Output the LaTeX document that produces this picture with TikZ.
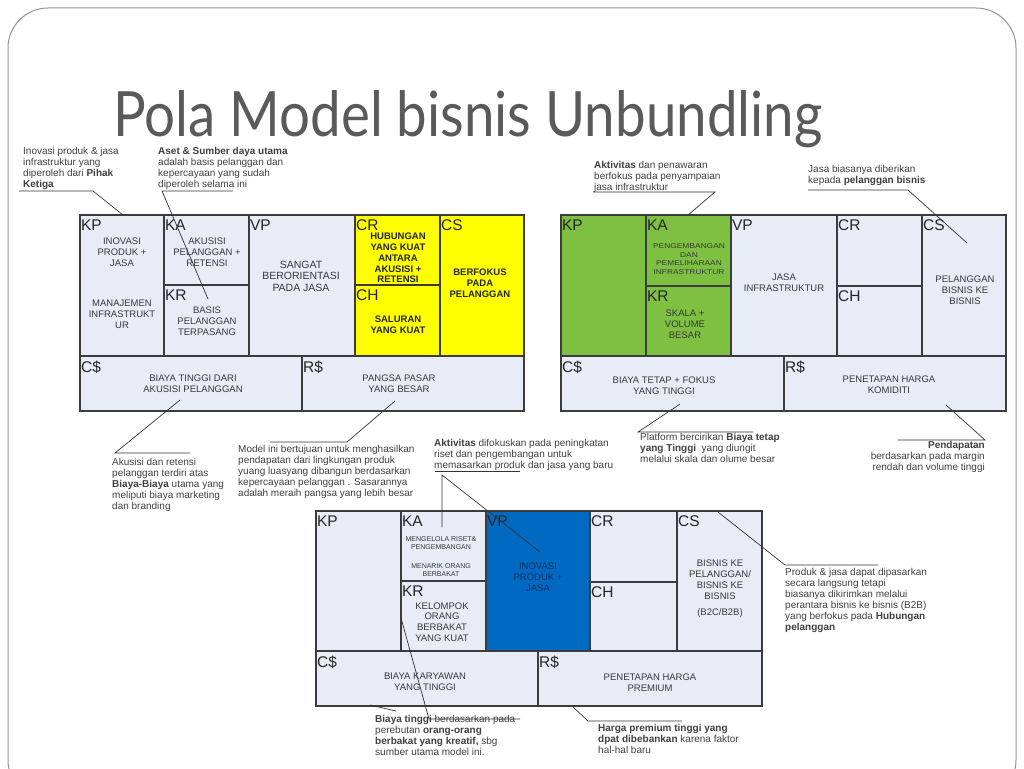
\documentclass[tikz,border=0pt]{standalone}
\usepackage{fontspec}
\usepackage{graphicx}
\setmainfont{Liberation Sans}
\newfontfamily\titlefont{Lato}
\usetikzlibrary{fit}
\definecolor{cellbg}{RGB}{232,236,246}
\definecolor{cellline}{RGB}{60,60,60}
\definecolor{cyellow}{RGB}{255,255,0}
\definecolor{cgreen}{RGB}{126,192,66}
\definecolor{cblue}{RGB}{0,106,194}
\definecolor{navytext}{RGB}{20,50,100}
\definecolor{titlegray}{RGB}{90,90,90}
\definecolor{framegray}{RGB}{150,150,150}
\tikzset{
  cell/.style={draw=cellline, line width=1.2pt, inner sep=0pt},
  tag/.style={anchor=north west, inner sep=0pt, font=\fontsize{15.5}{15.5}\selectfont, text=black!85},
  body/.style={align=center, inner sep=0pt, font=\fontsize{9.5}{10.8}\selectfont, text=black!78},
  bodyb/.style={body, font=\fontsize{9.5}{10.8}\selectfont\bfseries, text=black!85},
  small/.style={align=center, inner sep=0pt, font=\fontsize{7}{8.8}\selectfont, text=black!78},
  ann/.style={align=left, inner sep=0pt, anchor=north west, font=\fontsize{10}{11}\selectfont, text=black!75},
  lead/.style={draw=black!80, line width=0.7pt},
}
\newcommand\mkcell[6]{\node[cell, fill=#6, fit={(#2,#3) (#4,#5)}] (#1) {};}
\newcommand\mktag[2]{\node[tag] at ([shift={(1.5,5.5)}]#1.north west) {#2};}
\begin{document}
\begin{tikzpicture}[x=1pt,y=-1pt]
\useasboundingbox (0,0) rectangle (1024,768);
\fill[white] (0,0) rectangle (1024,768);
\begin{scope}
\clip (0,0) rectangle (1024,768);
\draw[framegray, line width=1pt, rounded corners=40pt] (8,8) rectangle (1016,800);
\end{scope}

% title
\node[anchor=base west, inner sep=0pt, text depth=0pt, text=titlegray] (title) at (113,136)
  {\resizebox{709pt}{46pt}{\titlefont Pola Model bisnis Unbundling}};

% ---------------- canvas 1 ----------------
\mkcell{a-kp}{80}{215}{164}{356}{cellbg}
\mkcell{a-ka}{164}{215}{249}{285}{cellbg}
\mkcell{a-kr}{164}{285}{249}{356}{cellbg}
\mkcell{a-vp}{249}{215}{355}{356}{cellbg}
\mkcell{a-cr}{355}{215}{440}{285}{cyellow}
\mkcell{a-ch}{355}{285}{440}{356}{cyellow}
\mkcell{a-cs}{440}{215}{524}{356}{cyellow}
\mkcell{a-co}{80}{356}{302}{411}{cellbg}
\mkcell{a-re}{302}{356}{524}{411}{cellbg}
\mktag{a-kp}{KP}\mktag{a-ka}{KA}\mktag{a-kr}{KR}\mktag{a-vp}{VP}
\mktag{a-cr}{CR}\mktag{a-ch}{CH}\mktag{a-cs}{CS}\mktag{a-co}{C\$}\mktag{a-re}{R\$}
\node[body] (a-kp1) at (122,252) {INOVASI\\PRODUK +\\JASA};
\node[body] (a-kp2) at (122,314) {MANAJEMEN\\INFRASTRUKT\\UR};
\node[body] (a-ka1) at (207,252) {AKUSISI\\PELANGGAN +\\RETENSI};
\node[body] (a-kr1) at (207,321) {BASIS\\PELANGGAN\\TERPASANG};
\node[body, font=\fontsize{10.5}{11.5}\selectfont] (a-vp1) at (301,276) {SANGAT\\BERORIENTASI\\PADA JASA};
\node[bodyb] (a-cr1) at (398,258) {HUBUNGAN\\YANG KUAT\\ANTARA\\AKUSISI +\\RETENSI};
\node[bodyb] (a-cs1) at (480,283) {BERFOKUS\\PADA\\PELANGGAN};
\node[bodyb] (a-ch1) at (398,325) {SALURAN\\YANG KUAT};
\node[body] (a-co1) at (193,384) {BIAYA TINGGI DARI\\AKUSISI PELANGGAN};
\node[body] (a-re1) at (399,384) {PANGSA PASAR\\YANG BESAR};

% ---------------- canvas 2 ----------------
\mkcell{b-kp}{561}{215}{646}{356}{cgreen}
\mkcell{b-ka}{646}{215}{731}{286}{cgreen}
\mkcell{b-kr}{646}{286}{731}{356}{cgreen}
\mkcell{b-vp}{731}{215}{837}{356}{cellbg}
\mkcell{b-cr}{837}{215}{922}{286}{cellbg}
\mkcell{b-ch}{837}{286}{922}{356}{cellbg}
\mkcell{b-cs}{922}{215}{1006}{356}{cellbg}
\mkcell{b-co}{561}{356}{784}{411}{cellbg}
\mkcell{b-re}{784}{356}{1006}{411}{cellbg}
\mktag{b-kp}{KP}\mktag{b-ka}{KA}\mktag{b-kr}{KR}\mktag{b-vp}{VP}
\mktag{b-cr}{CR}\mktag{b-ch}{CH}\mktag{b-cs}{CS}\mktag{b-co}{C\$}\mktag{b-re}{R\$}
\node[small] (b-ka1) at (689,259) {\scalebox{1.2}[1]{PENGEMBANGAN}\\\scalebox{1.2}[1]{DAN}\\\scalebox{1.2}[1]{PEMELIHARAAN}\\\scalebox{1.2}[1]{INFRASTRUKTUR}};
\node[body] (b-kr1) at (685,324) {SKALA +\\VOLUME\\BESAR};
\node[body] (b-vp1) at (784,283) {JASA\\INFRASTRUKTUR};
\node[body] (b-cs1) at (965,290) {PELANGGAN\\BISNIS KE\\BISNIS};
\node[body] (b-co1) at (664,386) {BIAYA TETAP + FOKUS\\YANG TINGGI};
\node[body] (b-re1) at (889,385) {PENETAPAN HARGA\\KOMIDITI};

% ---------------- canvas 3 ----------------
\mkcell{c-kp}{316}{511}{401}{651}{cellbg}
\mkcell{c-ka}{401}{511}{486}{581}{cellbg}
\mkcell{c-kr}{401}{581}{486}{651}{cellbg}
\mkcell{c-vp}{486}{511}{590}{651}{cblue}
\mkcell{c-cr}{590}{511}{677}{582}{cellbg}
\mkcell{c-ch}{590}{582}{677}{651}{cellbg}
\mkcell{c-cs}{677}{511}{762}{651}{cellbg}
\mkcell{c-co}{316}{651}{538}{706}{cellbg}
\mkcell{c-re}{538}{651}{762}{706}{cellbg}
\mktag{c-kp}{KP}\mktag{c-ka}{KA}\mktag{c-kr}{KR}\mktag{c-vp}{VP}
\mktag{c-cr}{CR}\mktag{c-ch}{CH}\mktag{c-cs}{CS}\mktag{c-co}{C\$}\mktag{c-re}{R\$}
\node[small] (c-ka1) at (441,543) {MENGELOLA RISET\&\\PENGEMBANGAN};
\node[small] (c-ka2) at (441,570) {MENARIK ORANG\\BERBAKAT};
\node[body] (c-kr1) at (442,622) {KELOMPOK\\ORANG\\BERBAKAT\\YANG KUAT};
\node[body, text=navytext] (c-vp1) at (538,577) {INOVASI\\PRODUK +\\JASA};
\node[body] (c-cs1) at (720,589) {BISNIS KE\\PELANGGAN/\\BISNIS KE\\BISNIS\\[6pt](B2C/B2B)};
\node[body] (c-co1) at (425,682) {BIAYA KARYAWAN\\YANG TINGGI};
\node[body] (c-re1) at (650,683) {PENETAPAN HARGA\\PREMIUM};

% ---------------- annotations ----------------
\node[ann] (n1) at (23,147) {Inovasi produk \& jasa\\infrastruktur yang\\diperoleh dari \textbf{Pihak}\\\textbf{Ketiga}};
\node[ann] (n2) at (158,147) {\textbf{Aset \& Sumber daya utama}\\adalah basis pelanggan dan\\kepercayaan yang sudah\\diperoleh selama ini};
\node[ann] (n3) at (112,458) {Akusisi dan retensi\\pelanggan terdiri atas\\\textbf{Biaya-Biaya} utama yang\\meliputi biaya marketing\\dan branding};
\node[ann] (n4) at (238,445) {Model ini bertujuan untuk menghasilkan\\pendapatan dari lingkungan produk\\yuang luasyang dibangun berdasarkan\\kepercayaan pelanggan . Sasarannya\\adalah meraih pangsa yang lebih besar};
\node[ann] (n5) at (594,161) {\textbf{Aktivitas} dan penawaran\\berfokus pada penyampaian\\jasa infrastruktur};
\node[ann] (n6) at (808,165) {Jasa biasanya diberikan\\kepada \textbf{pelanggan bisnis}};
\node[ann] (n7) at (640,433) {Platform bercirikan \textbf{Biaya tetap}\\\textbf{yang Tinggi}\ \ yang diungit\\melalui skala dan olume besar};
\node[ann, anchor=north east, align=right] (n8) at (985,441) {\textbf{Pendapatan}\\berdasarkan pada margin\\rendah dan volume tinggi};
\node[ann] (n9) at (434,439) {\textbf{Aktivitas} difokuskan pada peningkatan\\riset dan pengembangan untuk\\memasarkan produk dan jasa yang baru};
\node[ann] (n10) at (785,568) {Produk \& jasa dapat dipasarkan\\secara langsung tetapi\\biasanya dikirimkan melalui\\perantara bisnis ke bisnis (B2B)\\yang berfokus pada \textbf{Hubungan}\\\textbf{pelanggan}};
\node[ann] (n11) at (375,715) {\textbf{Biaya tinggi} berdasarkan pada\\perebutan \textbf{orang-orang}\\\textbf{berbakat yang kreatif,} sbg\\sumber utama model ini.};
\node[ann] (n12) at (598,724) {\textbf{Harga premium tinggi yang}\\\textbf{dpat dibebankan} karena faktor\\hal-hal baru};

% ---------------- leader lines ----------------
\coordinate (l1a) at (19,191); \coordinate (l1b) at (93,191); \coordinate (l1c) at (123,215);
\draw[lead] (l1a) -- (l1b) -- (l1c);
\coordinate (l2a) at (233,191); \coordinate (l2b) at (162,191); \coordinate (l2c) at (208,299);
\draw[lead] (l2a) -- (l2b) -- (l2c);
\coordinate (l3a) at (180,400); \coordinate (l3b) at (115,453); \coordinate (l3c) at (190,453);
\draw[lead] (l3a) -- (l3b) -- (l3c);
\coordinate (l4a) at (270,442); \coordinate (l4b) at (347,442); \coordinate (l4c) at (395,401);
\draw[lead] (l4a) -- (l4b) -- (l4c);
\coordinate (l5a) at (593,192); \coordinate (l5b) at (715,192); \coordinate (l5c) at (688,215);
\draw[lead] (l5a) -- (l5b) -- (l5c);
\coordinate (l6a) at (808,190); \coordinate (l6b) at (908,190); \coordinate (l6c) at (967,243);
\draw[lead] (l6a) -- (l6b) -- (l6c);
\coordinate (l7a) at (680,404); \coordinate (l7b) at (638,432); \coordinate (l7c) at (753,432);
\draw[lead] (l7a) -- (l7b) -- (l7c);
\coordinate (l8a) at (946,405); \coordinate (l8b) at (985,440); \coordinate (l8c) at (898,440);
\draw[lead] (l8a) -- (l8b) -- (l8c);
\coordinate (l9a) at (435,471); \coordinate (l9b) at (520,471);
\draw[lead] (l9a) -- (l9b);
\coordinate (l9c) at (442,475); \coordinate (l9d) at (540,552); \coordinate (l9e) at (442,527);
\draw[lead] (l9d) -- (l9c) -- (l9e);
\coordinate (l10a) at (718,512); \coordinate (l10b) at (785,565); \coordinate (l10c) at (878,565);
\draw[lead] (l10a) -- (l10b) -- (l10c);
\coordinate (l11a) at (401,618); \coordinate (l11b) at (429,719); \coordinate (l11c) at (520,719);
\draw[lead] (l11a) -- (l11b) -- (l11c);
\coordinate (l11d) at (370,705); \coordinate (l11e) at (396,711);
\draw[lead] (l11d) -- (l11e);
\coordinate (l12a) at (573,707); \coordinate (l12b) at (588,721); \coordinate (l12c) at (682,721);
\draw[lead] (l12a) -- (l12b) -- (l12c);
\end{tikzpicture}
\end{document}
